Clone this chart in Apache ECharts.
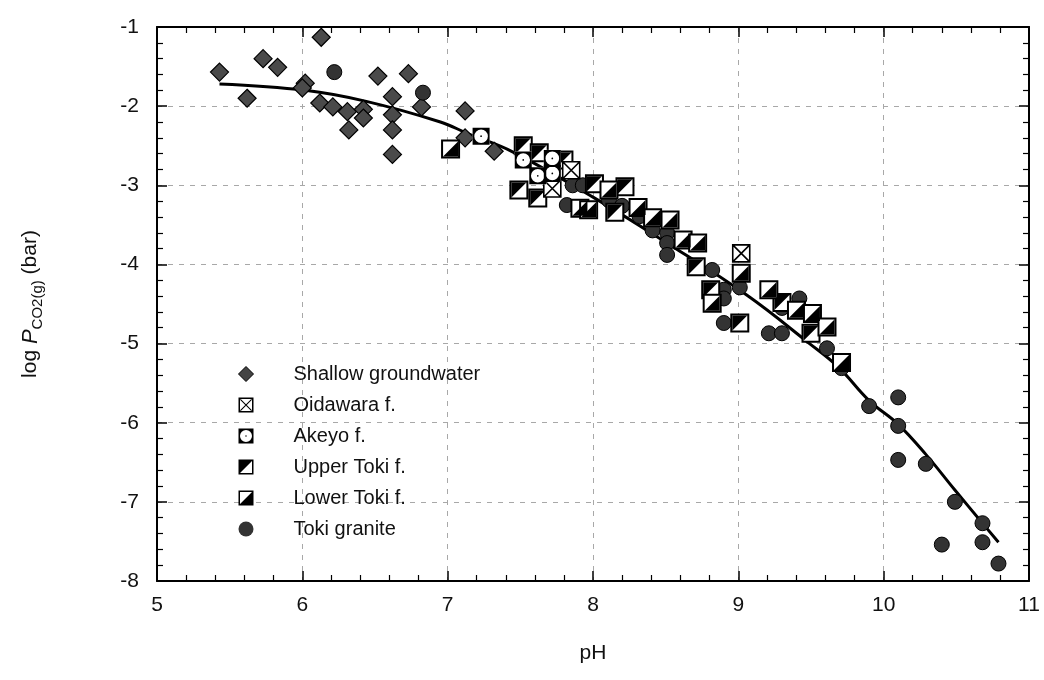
<!DOCTYPE html>
<html>
<head>
<meta charset="utf-8">
<script src="https://cdn.jsdelivr.net/npm/echarts@6/dist/echarts.min.js"></script>
<style>html,body{margin:0;padding:0;background:#fff}#c{width:1044px;height:680px}</style>
</head>
<body>
<div id="c"></div>
<script>
// ---- data (pH, log PCO2) ----
const shallowPH  = [5.43,5.62,5.73,5.83,6.13,6.02,6.00,6.12,6.21,6.31,6.42,6.42,6.32,6.52,6.73,6.62,6.62,6.62,6.62,6.82,7.12,7.12,7.32];
const shallowLog = [-1.57,-1.90,-1.40,-1.51,-1.13,-1.71,-1.77,-1.96,-2.01,-2.07,-2.04,-2.15,-2.30,-1.62,-1.59,-1.88,-2.11,-2.30,-2.61,-2.01,-2.06,-2.40,-2.57];

const oidawaraPH  = [7.85,7.72,9.02];
const oidawaraLog = [-2.81,-3.04,-3.86];

const akeyoPH  = [7.23,7.52,7.72,7.62,7.72];
const akeyoLog = [-2.38,-2.68,-2.66,-2.88,-2.85];

const upperTokiPH  = [7.52,7.63,7.80,7.49,7.62,8.01,8.22,8.15,8.71,8.81,9.01,9.30,9.50];
const upperTokiLog = [-2.50,-2.59,-2.68,-3.06,-3.16,-2.98,-3.02,-3.34,-4.03,-4.32,-4.74,-4.48,-4.87];

const lowerTokiPH  = [7.02,8.11,7.91,7.97,8.31,8.41,8.53,8.62,8.72,9.02,8.82,9.21,9.40,9.51,9.61,9.71];
const lowerTokiLog = [-2.54,-3.06,-3.29,-3.31,-3.28,-3.41,-3.44,-3.69,-3.73,-4.11,-4.49,-4.32,-4.58,-4.62,-4.79,-5.24];

const granitePH  = [6.22,6.83,7.86,7.93,7.82,8.11,8.20,8.32,8.41,8.51,8.51,8.51,8.82,9.01,8.90,8.90,8.90,9.30,9.42,9.21,9.30,9.61,9.71,9.90,10.10,10.10,10.10,10.29,10.49,10.68,10.68,10.40,10.79];
const graniteLog = [-1.57,-1.83,-3.00,-3.00,-3.25,-3.19,-3.26,-3.39,-3.57,-3.60,-3.73,-3.88,-4.07,-4.29,-4.32,-4.43,-4.74,-4.55,-4.43,-4.87,-4.87,-5.06,-5.31,-5.79,-5.68,-6.04,-6.47,-6.52,-7.00,-7.27,-7.51,-7.54,-7.78];

const curvePH  = [5.43,6.02,6.44,6.95,7.13,7.45,8.00,8.50,9.06,9.49,9.69,9.90,10.10,10.29,10.49,10.68,10.79];
const curveLog = [-1.72,-1.80,-1.94,-2.20,-2.34,-2.58,-3.15,-3.72,-4.39,-5.00,-5.30,-5.72,-6.02,-6.40,-6.85,-7.27,-7.51];

const xTicks = [5,6,7,8,9,10,11];
const yTicks = [-8,-7,-6,-5,-4,-3,-2,-1];

const pairs = (a,b) => a.map((v,i)=>[v,b[i]]);

// ---- marker shapes ----
const ring = 'M0 0 L20 0 L20 20 L0 20 Z M2 2 L2 18 L18 18 L18 2 Z ';
const upperIcon = 'path://' + ring + 'M2 2 L18 2 L2 18 Z';
const lowerIcon = 'path://' + ring + 'M18 2 L18 18 L2 18 Z';
const upperTri = 'path://M0 0 L20 0 L0 20 Z';
const lowerTri = 'path://M20 0 L20 20 L0 20 Z';
const akeyoPath = 'path://M0 0 L20 0 L20 20 L0 20 Z M10 2 A8 8 0 0 0 10 18 A8 8 0 0 0 10 2 Z M10 9 A1 1 0 0 1 10 11 A1 1 0 0 1 10 9 Z';
const oidaPath = 'path://M0 0 L20 0 L20 20 L0 20 Z M0 0 L20 20 M20 0 L0 20';
const oidaIcon = 'path://M0 0 L20 0 L20 20 L0 20 Z M2 2 L2 18 L18 18 L18 2 Z M3 2 L18 17 L17 18 L2 3 Z M17 2 L18 3 L3 18 L2 17 Z';

const FONT = 'Liberation Sans, Arial, sans-serif';
const sq = 17;

const chart = echarts.init(document.getElementById('c'), null, {renderer:'canvas'});
const gridLine = {show:true, lineStyle:{color:'#a8a8a8', type:[5,6], width:1}};
chart.setOption({
  animation:false,
  backgroundColor:'#fff',
  grid:{left:157, right:15, top:27, bottom:99},
  legend:{
    orient:'vertical', left:233, top:359, padding:5, itemGap:11, itemWidth:15, itemHeight:15,
    textStyle:{fontFamily:FONT, fontSize:20, color:'#111', padding:[0,0,0,35]},
    selectedMode:false,
    data:[
      {name:'Shallow groundwater', icon:'diamond', itemStyle:{color:'#444', borderColor:'#000', borderWidth:1}},
      {name:'Oidawara f.', icon:oidaIcon, itemStyle:{color:'#000', borderWidth:0}},
      {name:'Akeyo f.', icon:akeyoPath, itemStyle:{color:'#000', borderWidth:0}},
      {name:'Upper Toki f.', icon:upperIcon, itemStyle:{color:'#000', borderWidth:0}},
      {name:'Lower Toki f.', icon:lowerIcon, itemStyle:{color:'#000', borderWidth:0}},
      {name:'Toki granite', icon:'circle', itemStyle:{color:'#333', borderWidth:0}}
    ]
  },
  xAxis:[{
    type:'value', min:5, max:11, interval:1, position:'bottom',
    name:'pH', nameLocation:'middle', nameGap:62,
    nameTextStyle:{fontFamily:FONT, fontSize:21, color:'#111'},
    axisLine:{lineStyle:{color:'#000', width:2}},
    axisTick:{inside:true, length:10, lineStyle:{color:'#000', width:1.5}},
    minorTick:{show:true, splitNumber:5, length:6, lineStyle:{color:'#000', width:1.2}},
    axisLabel:{fontFamily:FONT, fontSize:21, color:'#111', margin:14},
    splitLine:gridLine
  },{
    type:'value', min:5, max:11, interval:1, position:'top',
    axisLine:{lineStyle:{color:'#000', width:2}},
    axisTick:{inside:true, length:10, lineStyle:{color:'#000', width:1.5}},
    minorTick:{show:true, splitNumber:5, length:6, lineStyle:{color:'#000', width:1.2}},
    axisLabel:{show:false}, splitLine:{show:false}
  }],
  yAxis:[{
    type:'value', min:-8, max:-1, interval:1, position:'left',
    name:'log {i|P}{sub|CO2(g)} (bar)', nameLocation:'middle', nameGap:112, nameRotate:90,
    nameTextStyle:{fontFamily:FONT, fontSize:21, color:'#111',
      rich:{i:{fontFamily:FONT, fontSize:22, fontStyle:'italic', color:'#111'},
            sub:{fontFamily:FONT, fontSize:15, color:'#111', padding:[14,0,0,0]}}},
    axisLine:{lineStyle:{color:'#000', width:2}},
    axisTick:{inside:true, length:10, lineStyle:{color:'#000', width:1.5}},
    minorTick:{show:true, splitNumber:5, length:6, lineStyle:{color:'#000', width:1.2}},
    axisLabel:{fontFamily:FONT, fontSize:21, color:'#111', margin:18},
    splitLine:gridLine
  },{
    type:'value', min:-8, max:-1, interval:1, position:'right',
    axisLine:{lineStyle:{color:'#000', width:2}},
    axisTick:{inside:true, length:10, lineStyle:{color:'#000', width:1.5}},
    minorTick:{show:true, splitNumber:5, length:6, lineStyle:{color:'#000', width:1.2}},
    axisLabel:{show:false}, splitLine:{show:false}
  }],
  series:[
    {type:'line', data:pairs(curvePH,curveLog), smooth:0.4, showSymbol:false, symbol:'none',
     lineStyle:{color:'#000', width:3}, z:1, silent:true},
    {name:'Shallow groundwater', type:'scatter', symbol:'diamond', symbolSize:[18,18],
     itemStyle:{color:'#4a4a4a', borderColor:'#000', borderWidth:1.2, opacity:1}, data:pairs(shallowPH,shallowLog), z:3},
    {name:'Toki granite', type:'scatter', symbol:'circle', symbolSize:15,
     itemStyle:{color:'#333', borderColor:'#000', borderWidth:1, opacity:1}, data:pairs(granitePH,graniteLog), z:3},
    {name:'Upper Toki f.', type:'scatter', symbol:'rect', symbolSize:sq,
     itemStyle:{color:'#fff', borderColor:'#000', borderWidth:2, opacity:1}, data:pairs(upperTokiPH,upperTokiLog), z:4},
    {name:'Upper Toki f.', type:'scatter', symbol:upperTri, symbolSize:sq-2, symbolKeepAspect:true,
     itemStyle:{color:'#000', opacity:1}, data:pairs(upperTokiPH,upperTokiLog), z:4},
    {name:'Lower Toki f.', type:'scatter', symbol:'rect', symbolSize:sq,
     itemStyle:{color:'#fff', borderColor:'#000', borderWidth:2, opacity:1}, data:pairs(lowerTokiPH,lowerTokiLog), z:4},
    {name:'Lower Toki f.', type:'scatter', symbol:lowerTri, symbolSize:sq-2, symbolKeepAspect:true,
     itemStyle:{color:'#000', opacity:1}, data:pairs(lowerTokiPH,lowerTokiLog), z:4},
    {name:'Oidawara f.', type:'scatter', symbol:oidaPath, symbolSize:sq,
     itemStyle:{color:'#fff', borderColor:'#000', borderWidth:1.6, opacity:1}, data:pairs(oidawaraPH,oidawaraLog), z:5},
    {name:'Akeyo f.', type:'scatter', symbol:'rect', symbolSize:sq,
     itemStyle:{color:'#fff', opacity:1}, data:pairs(akeyoPH,akeyoLog), z:5},
    {name:'Akeyo f.', type:'scatter', symbol:akeyoPath, symbolSize:sq,
     itemStyle:{color:'#000', opacity:1}, data:pairs(akeyoPH,akeyoLog), z:5}
  ]
});
</script>
</body>
</html>
